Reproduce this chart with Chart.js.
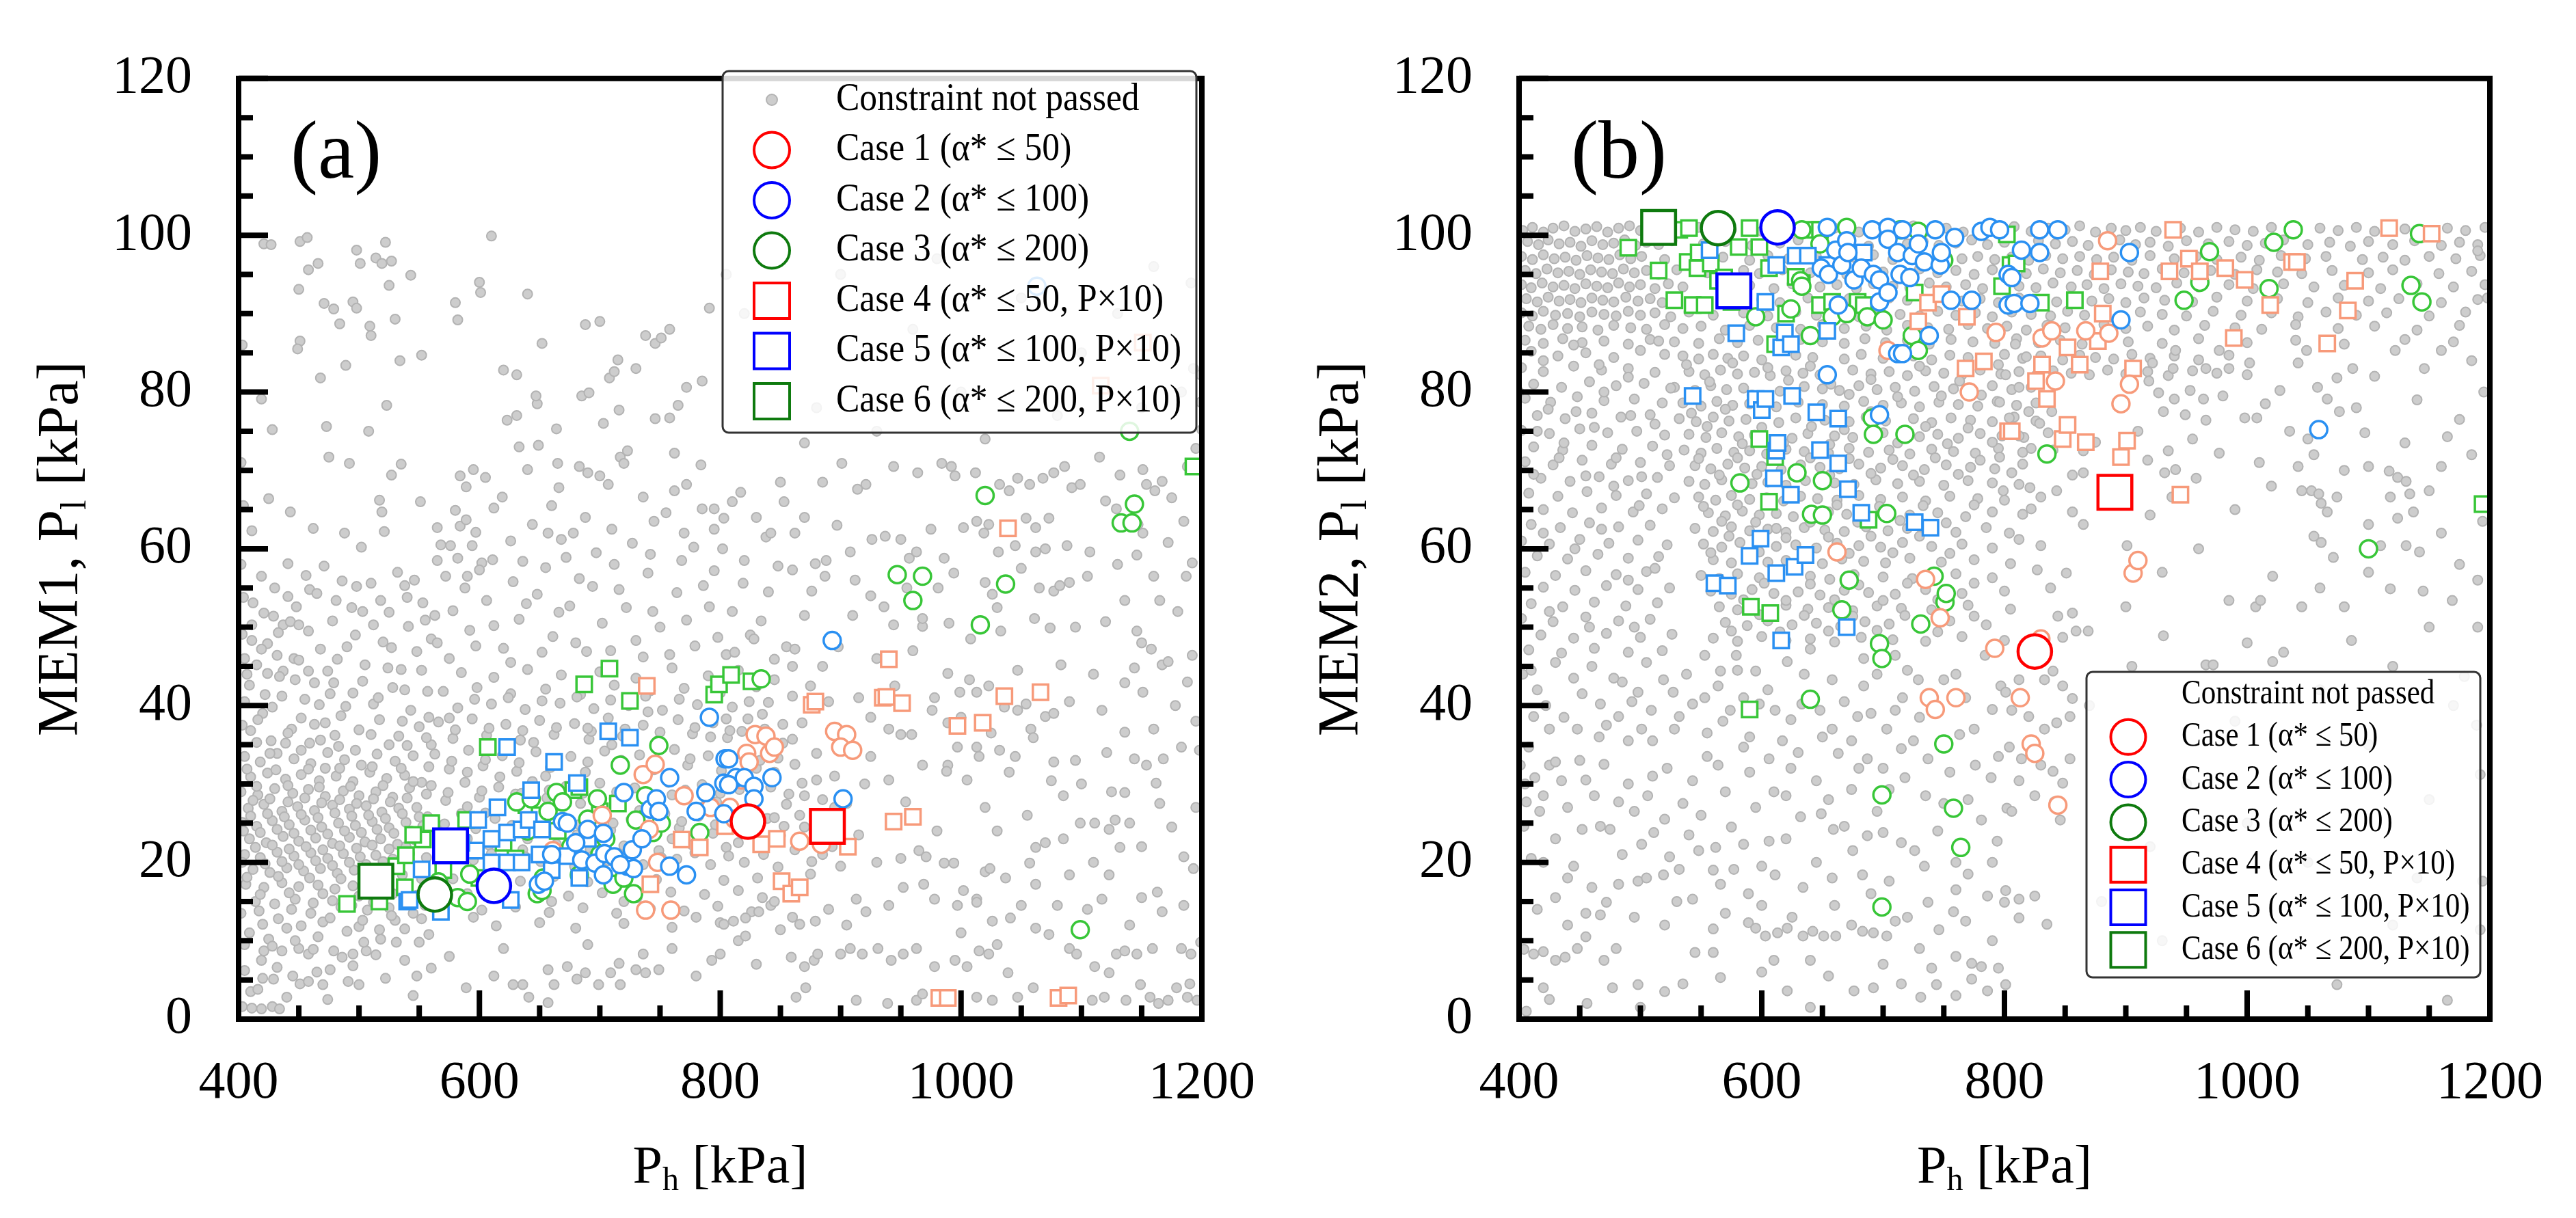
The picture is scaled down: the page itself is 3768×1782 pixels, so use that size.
<!DOCTYPE html>
<html>
<head>
<meta charset="utf-8">
<script src="https://cdn.jsdelivr.net/npm/chart.js@4.4.1/dist/chart.umd.min.js"></script>
<style>
  html, body { margin: 0; padding: 0; background: #fff; }
  #wrap { position: relative; width: 3768px; height: 1782px; }
  canvas { position: absolute; top: 0; }
  #chartA { left: 0; }
  #chartB { left: 1884px; }
</style>
</head>
<body>
<div id="wrap">
  <canvas id="chartA" width="1884" height="1782"></canvas>
  <canvas id="chartB" width="1884" height="1782"></canvas>
</div>
<script>
/* ---------- axes ---------- */
const xMajorTicks = [400, 600, 800, 1000, 1200];
const xMinorTicks = [450, 500, 550, 650, 700, 750, 850, 900, 950, 1050, 1100, 1150];
const yMajorTicks = [0, 20, 40, 60, 80, 100, 120];
const yMinorTicks = [5, 10, 15, 25, 30, 35, 45, 50, 55, 65, 70, 75, 85, 90, 95, 105, 110, 115];

const legendLabels = [
  'Constraint not passed',
  'Case 1 (α* ≤ 50)',
  'Case 2 (α* ≤ 100)',
  'Case 3 (α* ≤ 200)',
  'Case 4 (α* ≤ 50, P×10)',
  'Case 5 (α* ≤ 100, P×10)',
  'Case 6 (α* ≤ 200, P×10)'
];

/* ---------- panel (a): MEM1 ---------- */
// best design of each case, order Case 1..6
const bestA = [[823, 25.2], [612, 17.0], [563, 15.9], [889, 24.6], [576, 22.1], [514, 17.6]];

const caseA1 = [[661,21.5],[702,26.0],[736,31.2],[746,32.5],[741,24.2],[770,28.5],[792,27.0],[738,13.9],[759,13.9],[822,33.9],[824,32.8],[829,36.3],[838,36.1],[841,33.9],[845,34.7],[818,30.5],[808,27.0],[866,22.7],[884,22.3],[895,36.7],[905,36.3],[900,34.7],[910,34.3],[748,20.0],[812,25.5]];
const caseA2 = [[649,17.2],[654,17.6],[669,25.2],[685,20.3],[690,24.2],[696,19.9],[703,23.7],[703,18.4],[704,21.1],[712,20.7],[720,28.9],[723,19.5],[728,19.2],[742,26.8],[747,28.1],[749,26.5],[758,30.8],[758,19.5],[772,18.4],[780,26.5],[788,28.9],[791,38.5],[803,30.1],[803,26.2],[804,33.2],[807,33.2],[813,30.8],[807,29.9],[820,30.8],[828,29.7],[828,28.1],[843,30.8],[893,48.3],[902,28.1],[1063,93.5],[673,25.0],[717,19.7],[727,21.6],[680,22.5],[660,21.0],[735,23.0]];
const caseA3 = [[631,27.7],[643,28.1],[648,16.0],[652,16.4],[653,18.0],[657,26.5],[664,28.9],[669,27.7],[683,18.4],[698,28.1],[711,17.2],[717,32.4],[720,18.0],[728,16.0],[730,25.4],[738,28.5],[744,23.8],[749,34.9],[751,25.0],[783,23.8],[834,43.4],[947,56.7],[968,56.5],[960,53.4],[1037,55.5],[1016,50.3],[1020,66.8],[1133,63.3],[1142,63.3],[1144,65.7],[1099,11.4],[690,25.5],[705,23.0],[676,22.0],[700,21.0],[640,24.0],[612,19.5],[592,18.5],[582,15.5],[566,17.5],[590,15.0],[1140,75.0]];
const caseA4 = [[739,42.5],[742,17.2],[768,22.9],[783,21.9],[804,24.6],[834,22.3],[847,23.0],[851,17.6],[859,16.0],[866,16.8],[876,40.1],[879,40.5],[906,22.0],[935,41.0],[938,41.1],[951,40.3],[944,25.2],[960,25.8],[997,37.4],[1018,37.8],[1036,41.2],[1066,41.7],[1039,62.6],[982,2.7],[989,2.7],[1081,2.7],[1089,3.0],[1151,86.3],[1116,80.8],[940,45.9]];
const caseA5 = [[540,15.0],[542,15.2],[552,19.1],[568,13.7],[597,21.5],[599,25.4],[610,23.0],[610,20.0],[623,20.0],[623,23.8],[623,34.7],[626,15.2],[635,24.2],[635,20.0],[641,25.4],[643,29.2],[652,24.2],[662,32.8],[673,20.8],[681,30.1],[683,18.0],[707,36.7],[725,35.9],[585,22.5],[650,21.0],[660,19.0],[615,27.0],[690,23.0]];
const caseA6 = [[490,14.7],[517,15.0],[531,19.5],[538,16.8],[539,20.9],[553,22.9],[560,25.0],[589,25.4],[607,34.7],[639,27.3],[678,29.2],[683,29.6],[687,42.7],[708,44.7],[725,40.6],[795,41.4],[799,42.7],[809,43.9],[826,43.1],[1193,70.5],[620,22.5],[650,26.0],[665,24.0],[700,26.5],[715,27.5],[740,25.5],[570,19.0],[600,18.0],[630,20.5],[545,23.5]];

const grayAUpper = [[421,98.9],[451,99.2],[457,99.7],[458,95.6],[466,96.4],[498,98.1],[501,96.4],[514,97.1],[519,96.4],[527,96.7],[522,99.1],[543,94.9],[525,93.6],[610,99.9],[450,93.1],[471,91.3],[479,90.6],[495,91.5],[498,90.7],[509,88.4],[510,87.2],[530,89.3],[484,88.7],[580,91.4],[582,89.2],[601,92.7],[451,86.5],[449,85.5],[468,81.8],[489,83.4],[523,78.3],[534,84.0],[552,84.7],[419,79.1],[428,75.2],[473,75.6],[508,75.0],[475,71.7],[492,70.9],[527,69.4],[535,70.8],[517,66.2],[519,64.7],[551,66.0],[425,66.4],[443,64.7],[462,62.6],[488,62.0],[521,62.2],[502,60.2],[411,62.3],[419,56.5],[441,58.1],[459,54.8],[481,53.4],[498,55.2],[538,55.3],[565,58.5],[576,60.4],[582,58.8],[594,60.4],[602,58.2],[611,58.6],[584,69.3],[589,67.9],[595,70.1],[605,69.1],[565,62.7],[584,62.9],[589,63.7],[590,56.5],[620,82.8],[631,82.2],[623,76.4],[631,77.0],[648,78.5],[647,79.5],[633,73.0],[649,73.2],[664,75.3],[652,86.2],[640,70.1],[619,66.6],[644,63.1],[665,70.9],[666,67.8],[657,62.0],[668,61.2],[678,62.0],[688,88.6],[685,79.5],[691,79.9],[703,76.0],[716,77.7],[683,70.5],[690,69.7],[700,69.3],[707,68.2],[708,81.8],[712,82.6],[715,84.1],[738,87.2],[746,86.2],[758,88.0],[751,86.9],[746,76.6],[758,76.7],[765,78.3],[772,80.6],[717,71.7],[723,72.5],[720,70.9],[762,72.2],[736,66.6],[762,67.4],[772,68.2],[791,90.7],[785,81.4],[784,70.7],[785,65.1],[403,86.0],[404,65.5],[402,71.0],[402,58.0],[427,98.8],[600,94.0],[640,92.5],[700,89.0],[730,83.0],[745,63.5],[770,62.0],[795,62.5],[810,66.0],[830,64.0],[850,68.5]];
const grayAMid = [[411,50.3],[421,51.8],[429,51.4],[437,50.3],[443,50.7],[450,50.3],[458,49.5],[424,47.9],[411,48.3],[403,49.1],[405,46.0],[415,45.2],[424,44.1],[437,44.4],[447,43.3],[463,42.9],[474,44.4],[479,42.9],[458,44.4],[446,46.0],[432,46.4],[490,47.5],[505,45.2],[520,48.1],[535,44.6],[548,46.9],[560,48.5],[495,41.6],[512,40.2],[528,42.3],[543,39.4],[557,41.8],[485,38.7],[500,36.9],[517,38.2],[533,36.1],[550,37.3],[405,40.5],[420,39.0],[436,41.2],[452,38.4],[467,40.1],[480,36.2],[410,36.8],[427,35.5],[444,37.0],[459,35.2],[472,37.8],[412,53.1],[430,55.0],[448,52.6],[465,54.3],[478,50.8],[494,52.5],[510,55.6],[525,51.9],[540,53.8],[555,50.9],[565,48.0],[578,52.1],[592,49.6],[606,53.4],[620,47.3],[633,51.0],[648,54.2],[661,48.8],[675,52.7],[689,46.9],[702,50.5],[716,54.8],[730,48.3],[744,52.0],[758,46.5],[772,50.9],[786,55.3],[798,48.7],[572,56.5],[600,57.3],[628,55.8],[655,57.6],[683,56.2],[712,58.0],[740,56.9],[768,58.5],[795,57.2],[810,52.0],[825,49.0],[840,54.5],[855,47.5],[870,51.5]];
const grayACoreLeft = [[405,33.5],[418,32.8],[432,33.9],[446,33.2],[460,32.6],[474,34.0],[488,33.1],[502,32.4],[515,33.8],[530,32.9],[545,33.6],[558,32.2],[410,30.9],[424,31.4],[439,30.6],[452,31.2],[467,30.4],[481,31.0],[495,30.3],[509,31.5],[523,30.7],[538,31.1],[552,30.2],[402,29.0],[416,28.6],[430,29.4],[445,28.8],[458,29.3],[472,28.4],[487,29.1],[500,28.5],[514,29.0],[528,28.3],[542,29.5],[556,28.7],[408,26.9],[421,27.4],[436,26.5],[449,27.1],[463,26.6],[478,27.3],[492,26.8],[506,27.2],[519,26.4],[533,26.9],[548,27.0],[403,25.1],[415,24.6],[428,25.3],[442,24.8],[455,25.4],[469,24.5],[483,25.0],[497,24.7],[511,25.2],[525,24.4],[539,25.1],[553,24.6],[409,23.0],[423,22.5],[437,23.3],[450,22.7],[464,23.1],[478,22.4],[492,23.2],[505,22.6],[518,23.0],[532,22.3],[546,22.9],[405,21.0],[418,20.6],[432,21.3],[446,20.8],[460,21.2],[474,20.5],[487,21.1],[501,20.7],[514,20.9],[528,20.4],[542,21.1],[556,20.6],[412,19.1],[426,18.7],[440,19.3],[454,18.9],[468,19.2],[482,18.6],[496,19.0],[510,18.5],[524,19.2],[406,17.2],[421,16.8],[436,17.4],[450,16.9],[466,17.1],[480,16.6],[495,17.0],[509,16.4],[523,17.2],[548,15.8],[414,15.0],[430,14.7],[447,15.3],[462,14.8],[478,15.1],[494,14.5],[507,13.9],[525,14.2],[545,13.5],[420,12.1],[440,11.6],[470,12.4],[500,11.8],[530,12.6],[412,27.9],[426,28.1],[441,27.7],[455,28.2],[469,27.6],[484,28.0],[498,27.5],[512,28.1],[526,27.7],[540,28.2],[410,25.9],[424,26.2],[438,25.8],[452,26.1],[466,25.7],[480,26.3],[494,25.9],[508,26.0],[522,25.6],[536,26.2],[550,25.8],[404,24.0],[418,23.8],[432,24.2],[446,23.7],[460,24.1],[474,23.6],[488,24.0],[502,23.8],[515,24.2],[529,23.7],[543,24.0],[414,21.9],[428,22.2],[442,21.7],[456,22.0],[470,21.6],[484,22.1],[498,21.8],[511,22.2],[525,21.7],[539,22.0],[403,20.0],[422,19.8],[436,20.1],[450,19.7],[464,20.2],[478,19.6],[492,20.0],[506,19.7],[520,20.1],[534,19.8],[407,31.9],[431,31.8],[458,31.9],[484,32.0],[511,32.2],[535,32.0],[415,29.7],[441,29.8],[467,29.6],[493,29.7],[520,29.8],[545,30.3],[407,18.1],[433,18.2],[459,18.0],[485,17.9],[512,17.6],[536,18.4],[418,15.9],[442,16.1],[470,16.0],[500,15.7],[528,16.0],[552,17.9]];
const grayACoreRight = [[585,44.2],[612,43.6],[640,44.6],[668,43.9],[700,44.3],[730,43.5],[760,44.8],[790,43.8],[815,44.5],[845,43.3],[570,41.8],[598,42.3],[626,41.5],[655,42.1],[684,41.4],[712,42.6],[742,41.9],[770,42.2],[800,41.6],[830,42.4],[860,41.2],[582,39.7],[610,40.2],[638,39.5],[667,40.3],[695,39.6],[724,40.0],[752,39.4],[781,40.1],[810,39.8],[840,40.4],[566,37.9],[594,38.3],[622,37.6],[650,38.1],[679,37.7],[707,38.4],[736,37.5],[765,38.2],[794,37.8],[823,38.3],[852,37.6],[578,35.8],[606,36.2],[634,35.6],[662,36.3],[691,35.7],[719,36.1],[748,35.5],[777,36.4],[806,35.9],[835,36.0],[563,33.8],[591,34.3],[619,33.6],[647,34.1],[676,33.5],[704,34.2],[733,33.7],[762,34.4],[790,33.6],[819,34.0],[848,33.3],[575,31.9],[603,32.3],[631,31.6],[659,32.1],[688,31.5],[716,32.2],[745,31.8],[773,32.4],[801,31.7],[830,32.0],[560,29.8],[588,30.2],[616,29.6],[644,30.3],[672,29.7],[700,30.1],[729,29.5],[757,30.2],[785,29.9],[813,30.4],[842,29.6],[868,30.1],[572,27.9],[600,28.3],[628,27.6],[656,28.2],[684,27.5],[712,28.1],[741,27.8],[769,28.4],[797,27.7],[826,28.0],[855,27.4],[557,25.8],[585,26.2],[613,25.6],[641,26.3],[669,25.7],[697,26.1],[726,25.5],[754,26.2],[782,25.9],[811,26.4],[839,25.6],[866,26.0],[569,23.9],[597,24.3],[625,23.6],[653,24.2],[681,23.5],[709,24.1],[738,23.8],[766,24.4],[794,23.7],[822,24.0],[850,23.4],[878,23.9],[580,21.8],[608,22.2],[636,21.6],[664,22.3],[692,21.7],[720,22.1],[749,21.5],[777,22.2],[805,21.9],[834,22.4],[862,21.6],[893,22.0],[567,19.8],[595,20.3],[623,19.6],[651,20.1],[679,19.5],[707,20.2],[736,19.7],[764,20.4],[792,19.7],[820,20.0],[848,19.4],[876,20.1],[578,17.9],[606,18.3],[634,17.6],[662,18.2],[690,17.5],[718,18.1],[747,17.8],[775,18.4],[803,17.7],[831,18.0],[590,16.0],[618,15.6],[646,16.3],[674,15.7],[702,16.1],[731,15.5],[759,16.2],[787,15.9],[815,16.4],[602,13.9],[630,14.3],[658,13.6],[686,14.2],[714,13.5],[742,14.1],[770,13.8],[798,14.4],[826,13.7],[614,11.9],[650,12.3],[680,11.6],[720,12.2],[760,11.7],[800,12.3],[596,40.8],[624,41.0],[652,40.6],[681,41.1],[709,40.7],[738,41.2],[766,40.8],[795,41.0],[824,40.5],[580,36.9],[608,37.1],[636,36.8],[664,37.2],[693,36.7],[721,37.0],[750,36.6],[779,37.2],[808,36.8],[837,37.0],[577,32.9],[605,33.1],[633,32.7],[661,33.2],[690,32.8],[718,33.0],[747,32.6],[775,33.2],[804,32.8],[833,33.0],[574,28.9],[602,29.1],[630,28.7],[658,29.2],[686,28.8],[714,29.0],[743,28.6],[771,29.2],[800,28.8],[829,29.0],[857,28.7],[571,24.9],[599,25.1],[627,24.7],[655,25.2],[683,24.8],[711,25.0],[740,24.6],[768,25.2],[796,24.8],[825,25.0],[853,24.6],[582,20.9],[610,21.1],[638,20.7],[666,21.2],[694,20.8],[722,21.0],[751,20.6],[779,21.2],[807,20.8],[836,21.0],[560,35.0],[575,38.4],[590,31.5],[617,30.9],[645,35.3],[655,31.0],[690,37.1],[710,35.0],[740,39.2],[760,31.0],[792,36.0],[805,38.3],[845,31.5],[860,35.7],[862,32.5],[880,30.5],[895,27.0],[885,28.0],[590,27.1],[605,26.3],[635,28.8],[665,27.2],[700,27.4],[733,26.6],[760,28.6],[786,27.1],[816,29.3],[845,25.7],[590,23.0],[640,23.0],[700,23.0],[760,23.0],[815,22.5],[870,24.5],[575,15.4],[595,13.0],[660,15.0],[720,15.0],[780,13.0],[835,15.5]];
const grayALow = [[421,8.7],[436,8.7],[450,9.0],[458,8.3],[479,8.7],[495,8.3],[506,8.7],[419,7.5],[476,6.3],[420,5.2],[429,5.1],[451,4.5],[458,4.8],[470,4.4],[491,4.8],[500,4.4],[440,2.8],[403,1.6],[411,1.4],[419,1.3],[428,1.6],[434,1.3],[445,5.5],[465,6.0],[589,4.0],[657,6.3],[662,4.4],[673,6.7],[681,5.1],[688,5.9],[699,4.4],[709,5.9],[717,4.4],[730,6.3],[738,5.9],[749,6.3],[636,4.4],[641,2.8],[657,2.1],[612,5.5],[628,4.4],[736,8.3],[793,7.5],[800,8.3],[716,7.1],[550,9.8],[531,9.8],[518,10.2],[504,9.8],[560,6.5],[575,8.0],[545,3.0],[620,9.0],[690,9.5],[760,9.0],[780,5.5],[815,10.0],[830,7.0],[402,13.5],[409,11.0],[417,13.8],[425,10.2],[433,12.8],[444,14.0],[452,11.9],[460,13.5],[466,10.5],[476,12.9],[485,14.3],[490,11.2],[503,12.6],[512,14.9],[517,11.4],[527,13.2],[538,11.5],[552,12.8],[558,10.8],[405,9.5],[428,9.3],[447,10.0],[462,8.9],[486,7.9],[514,8.2],[538,7.5],[555,14.5],[410,3.5],[432,6.6],[474,2.5],[495,6.8],[522,5.2],[548,5.5],[405,6.2],[416,3.8]];
const grayALeftExtra = [[403,37.5],[416,38.2],[428,39.8],[441,36.5],[455,40.8],[463,37.6],[476,41.5],[489,39.9],[503,43.1],[516,41.0],[524,44.8],[538,42.0],[552,44.5],[558,38.5],[409,42.6],[422,41.4],[434,43.7],[450,45.8],[468,47.2],[482,45.9],[497,49.0],[512,50.3],[527,47.4],[541,50.1],[553,53.1],[404,53.8],[419,47.2],[433,49.3],[441,53.9],[456,56.6],[471,57.8],[486,55.9],[503,52.0],[518,53.4],[532,57.0],[546,56.0],[407,44.0],[426,33.9],[439,35.2],[452,34.3],[468,35.6],[483,34.8],[497,34.3],[510,36.3],[525,35.0],[540,34.9],[556,35.9],[415,35.3],[472,32.0],[536,38.0],[563,51.5],[575,46.0],[588,55.0],[597,47.6],[612,50.2],[626,45.5],[639,53.0],[652,46.8],[666,51.9],[680,48.0],[694,55.2],[709,47.0],[722,52.5],[736,46.2],[750,50.0],[764,54.4],[779,47.6],[791,52.6],[805,46.5],[819,55.6],[834,50.8],[848,57.8],[568,60.5],[580,64.9],[597,62.1],[612,65.2],[626,61.0],[636,58.4],[660,65.5],[672,58.9],[688,64.0],[697,59.5],[710,62.5],[727,60.7],[742,59.3],[755,64.6],[778,60.2],[802,60.0],[820,58.5],[838,61.5]];
const grayARight = [[901,70.9],[921,68.2],[914,67.6],[944,70.5],[964,69.7],[984,70.9],[995,69.3],[992,70.5],[1012,69.7],[1032,68.2],[1040,67.4],[1047,69.0],[1057,68.2],[1068,69.0],[1077,69.7],[1086,70.5],[1092,67.8],[1099,68.2],[1115,71.7],[1132,69.4],[1154,68.2],[1161,67.4],[1167,68.6],[1151,70.1],[1188,70.5],[1195,72.8],[817,67.2],[842,62.0],[862,62.0],[795,65.1],[803,63.9],[879,58.1],[888,58.5],[908,59.6],[926,61.2],[937,61.6],[950,61.2],[957,58.8],[963,59.6],[968,50.1],[986,58.8],[994,56.9],[1002,62.7],[1013,63.5],[1023,63.1],[1019,62.0],[1031,59.6],[1045,60.4],[1054,63.9],[1062,62.7],[1073,63.9],[1062,59.6],[1070,60.0],[1088,60.4],[1107,59.6],[1120,66.1],[1129,65.1],[1147,63.1],[1146,59.2],[1151,62.0],[1172,60.8],[1192,58.2],[1187,56.5],[860,57.3],[887,56.5],[876,54.6],[944,50.3],[936,52.6],[968,51.1],[981,55.0],[1020,55.7],[1026,54.2],[1065,55.0],[1077,54.6],[1082,55.3],[1090,55.7],[1061,51.1],[1120,50.7],[1136,53.4],[1146,49.5],[1150,48.0],[1158,47.2],[1167,45.2],[1172,45.6],[1192,46.4],[1144,44.8],[1165,53.4],[1033,49.5],[1047,44.5],[1074,49.9],[1083,45.2],[1070,38.6],[1077,39.0],[1058,37.0],[1060,35.9],[1117,39.4],[1075,30.4],[1077,32.8],[1121,34.0],[1136,28.9],[1111,25.0],[1123,24.2],[1132,21.9],[1062,21.9],[1099,25.0],[989,44.1],[1007,43.3],[1013,41.7],[1023,42.5],[1036,39.8],[1047,39.4],[1054,40.2],[978,41.0],[999,41.7],[976,39.4],[989,37.8],[997,34.7],[1013,34.7],[989,32.4],[988,31.6],[1032,34.3],[959,36.3],[968,32.4],[940,37.0],[950,36.3],[1057,19.9],[1037,18.0],[1062,17.2],[1020,18.8],[1024,19.2],[994,19.9],[986,19.9],[1002,16.4],[1013,15.3],[1090,18.4],[1117,15.3],[1123,18.4],[1163,16.2],[1167,13.7],[1185,20.7],[1193,19.2],[1128,25.4],[1198,34.3],[965,21.5],[971,20.7],[954,27.7],[959,25.8],[913,15.3],[921,13.7],[940,14.5],[952,16.8],[969,17.2],[978,15.3],[997,14.5],[1013,14.9],[1026,12.5],[1041,12.9],[1062,11.6],[1073,10.8],[1090,9.0],[1096,8.3],[1111,6.7],[1123,5.9],[1129,8.3],[1136,8.7],[1146,8.3],[1159,9.0],[1183,9.0],[1191,8.3],[1199,9.8],[859,7.9],[878,7.5],[870,6.7],[881,8.3],[900,8.3],[908,9.0],[918,8.3],[931,9.0],[942,7.5],[952,8.3],[963,9.0],[978,6.7],[995,7.5],[1005,6.7],[1015,8.7],[1023,8.3],[1039,5.9],[842,14.5],[832,13.7],[821,12.9],[811,12.5],[803,12.1],[821,10.6],[850,11.4],[866,12.1],[879,12.5],[871,4.0],[863,2.8],[913,2.4],[939,2.0],[963,2.4],[968,3.2],[1013,2.8],[1026,2.4],[1047,2.8],[1060,4.0],[1109,2.4],[1119,2.8],[1137,2.4],[1149,4.4],[1157,2.8],[1164,2.0],[1172,2.4],[1179,4.0],[1188,2.8],[1196,2.4],[1136,36.6],[1144,33.2],[1154,32.4],[1168,33.2],[1183,34.7],[1162,30.1],[1136,42.9],[1151,41.7],[1178,40.0],[1195,38.0],[1110,44.0],[1125,29.0],[1150,22.0],[1175,24.5],[1195,27.0],[1105,14.0],[1140,12.0],[1185,14.5],[1005,30.5],[1020,27.0],[1040,31.5],[1055,26.0],[1085,28.5],[1095,33.0],[1030,24.0],[1070,22.5],[1015,33.5],[812,46.8],[828,48.5],[845,45.9],[862,47.2],[818,36.7],[835,38.9],[852,35.2],[868,37.8],[880,33.9],[885,45.0],[890,40.5],[870,28.5],[880,25.5],[895,31.0],[905,27.5],[915,41.0],[920,30.0],[930,46.0],[860,13.0],[845,15.0],[875,18.5],[890,14.0],[900,19.5],[915,23.5],[930,20.0],[1191,93.9],[1199,82.2],[1199,78.7],[1200,75.2],[1193,83.0],[1183,80.0],[853,66.0],[870,64.0],[885,68.5],[897,63.0],[912,56.0],[925,54.0],[955,55.0],[975,62.5],[990,50.5],[1008,48.5],[1030,52.5],[1050,57.5],[1095,50.0],[1105,56.5],[1130,58.0],[1160,56.5],[1180,52.0],[1185,63.5],[1175,66.5],[860,45.0],[875,42.5],[898,47.5],[910,51.5],[925,38.5],[945,42.5],[960,47.0],[1000,38.5],[1025,36.5],[1045,33.5],[1090,40.5],[1100,30.0],[1160,37.0],[1188,43.0],[1165,27.5],[1140,25.0],[1110,20.0],[1080,14.5],[1050,14.5],[1030,9.5],[1000,11.0],[980,24.0],[940,30.5],[925,33.5],[905,36.5],[950,20.5],[905,12.0],[885,21.0],[1085,23.0],[1150,15.5],[1190,4.5]];
const grayAUnderLegend = [[820,90],[850,85],[900,95],[960,88],[1000,80],[1050,92],[1100,85],[1150,78],[880,78],[930,75],[1020,74],[1080,77],[1130,90],[805,95],[840,100],[870,73.5],[980,97],[1160,96]];

/* ---------- panel (b): MEM2 ---------- */
const bestB = [[825, 46.9], [613, 101.0], [564, 100.9], [891, 67.2], [577, 92.9], [515, 101.0]];

const caseB1 = [[662,59.6],[704,85.3],[735,56.1],[738,41.0],[743,39.5],[747,51.2],[760,41.0],[771,80.0],[792,47.3],[793,87.6],[813,41.0],[822,35.1],[825,33.9],[831,86.9],[839,87.8],[842,81.4],[844,27.3],[867,87.8],[885,99.3],[886,87.5],[896,78.5],[903,81.0],[906,56.9],[910,58.5],[830,48.5]];
const caseB2 = [[649,95.8],[654,101.0],[654,82.2],[655,95.0],[661,98.1],[663,91.1],[666,96.2],[670,99.3],[671,97.8],[676,94.3],[682,95.8],[691,100.7],[692,95.0],[697,94.3],[697,91.5],[697,77.1],[704,101.0],[704,99.5],[704,92.7],[712,97.8],[712,84.9],[714,95.0],[716,100.7],[716,84.9],[722,94.6],[724,97.4],[729,98.9],[734,96.6],[738,87.2],[743,100.7],[747,96.2],[748,97.8],[756,91.7],[759,99.7],[773,91.7],[781,100.5],[788,101.0],[796,100.7],[803,95.0],[803,91.1],[806,94.6],[808,91.3],[814,98.1],[821,91.3],[829,100.7],[829,97.8],[844,100.7],[896,89.2],[903,97.8],[1059,75.2]];
const caseB3 = [[582,68.4],[595,89.6],[624,90.6],[629,69.7],[632,94.2],[633,93.5],[633,100.7],[640,87.2],[640,40.8],[641,64.4],[648,98.9],[650,68.7],[650,64.3],[658,89.6],[666,52.2],[670,90.0],[670,101.0],[672,56.0],[687,89.6],[691,76.7],[692,74.6],[697,47.9],[699,46.0],[699,28.6],[699,14.3],[700,89.2],[703,64.5],[714,100.7],[718,74.6],[724,87.2],[729,85.3],[729,100.5],[731,50.4],[742,56.5],[750,96.8],[750,35.1],[751,53.2],[752,54.3],[758,26.9],[764,21.9],[835,72.1],[948,91.7],[961,94.0],[969,97.9],[1018,93.2],[1022,99.1],[1038,100.7],[1100,60.0],[1135,93.6],[1142,100.2],[1144,91.5]];
const caseB4 = [[729,89.0],[737,91.4],[748,92.5],[768,83.0],[769,89.6],[783,83.9],[803,75.0],[806,75.0],[826,81.4],[831,83.5],[835,79.1],[848,74.0],[852,85.7],[852,75.8],[862,83.5],[867,73.6],[877,86.5],[879,95.4],[881,90.0],[896,71.7],[901,73.8],[906,83.0],[936,95.4],[939,100.7],[945,66.9],[952,97.0],[961,95.4],[982,95.8],[989,86.9],[998,94.3],[1019,91.1],[1037,96.6],[1041,96.6],[1066,86.2],[1083,90.4],[1089,94.2],[1117,100.9],[1152,100.2]];
const caseB5 = [[543,79.5],[557,98.1],[561,55.6],[572,55.3],[579,87.5],[590,59.1],[595,79.1],[599,61.3],[600,77.7],[603,79.1],[603,91.5],[610,69.0],[612,96.2],[612,72.5],[612,56.9],[613,73.5],[616,85.7],[616,48.3],[619,87.6],[624,86.1],[624,66.9],[625,79.5],[627,57.7],[628,97.4],[636,59.2],[638,97.4],[645,77.4],[648,72.6],[654,96.2],[654,87.8],[663,76.6],[663,70.9],[670,50.0],[671,67.6],[682,64.6],[684,97.8],[726,63.4],[739,62.7]];
const caseB6 = [[490,98.4],[528,91.7],[532,100.7],[539,96.6],[540,100.9],[543,91.1],[547,95.8],[548,97.8],[553,91.1],[558,96.4],[564,94.2],[569,94.6],[581,98.5],[590,100.9],[590,39.5],[591,52.6],[598,98.5],[598,74.0],[606,95.8],[606,66.0],[607,51.8],[611,86.1],[611,71.7],[628,94.7],[633,93.9],[641,100.7],[648,100.7],[648,91.1],[658,91.5],[679,91.5],[684,91.1],[688,63.7],[726,92.7],[798,93.5],[802,100.1],[805,96.2],[810,96.4],[830,91.4],[858,91.7],[1194,65.7],[515,95.5],[575,91.5],[620,90.0]];

const grayBBand = [[403,100.6],[411,101.0],[420,100.4],[428,100.9],[437,101.2],[446,100.5],[455,100.8],[464,101.1],[473,100.4],[482,100.9],[491,101.2],[500,100.6],[510,100.9],[520,100.5],[548,101.0],[575,100.7],[600,100.5],[622,101.1],[640,100.6],[660,100.9],[680,100.4],[695,101.0],[710,100.7],[725,101.2],[738,100.5],[752,100.9],[766,100.4],[780,101.0],[795,100.6],[808,101.1],[822,100.5],[836,100.9],[850,100.7],[862,101.2],[875,100.4],[888,100.9],[900,100.6],[912,101.0],[925,100.5],[945,100.9],[960,100.4],[975,101.0],[990,100.7],[1005,100.5],[1020,101.0],[1040,100.4],[1060,100.9],[1075,100.6],[1090,101.0],[1105,100.5],[1130,100.8],[1145,100.4],[1165,100.9],[1180,100.6],[1196,101.0],
[407,99.2],[416,98.8],[424,99.4],[433,98.9],[442,99.1],[451,98.6],[460,99.3],[469,98.8],[478,99.0],[487,99.4],[496,98.7],[505,99.1],[515,98.8],[526,99.3],[552,98.9],[570,99.2],[592,98.7],[615,99.0],[630,99.4],[652,98.8],[668,99.1],[688,98.6],[702,99.3],[720,98.9],[733,99.2],[746,98.7],[760,99.0],[773,99.4],[786,98.8],[800,99.1],[815,98.6],[828,99.3],[842,98.9],[856,99.2],[869,98.7],[882,99.0],[895,99.4],[908,98.8],[920,99.1],[935,98.6],[950,99.3],[968,98.9],[985,99.2],[1000,98.7],[1015,99.0],[1030,99.4],[1050,98.8],[1068,99.1],[1085,98.6],[1100,99.2],[1120,98.8],[1138,99.3],[1160,98.7],[1175,99.1],[1190,98.8],
[402,97.3],[411,96.9],[420,97.5],[429,97.0],[438,97.2],[447,96.8],[456,97.4],[465,97.1],[474,96.9],[483,97.5],[492,97.0],[501,97.3],[520,96.9],[568,97.2],[590,96.8],[605,97.4],[622,97.0],[645,97.3],[660,96.8],[676,97.2],[692,97.5],[708,96.9],[722,97.3],[737,96.8],[752,97.4],[765,97.0],[778,97.3],[792,96.9],[806,97.2],[820,96.8],[834,97.4],[848,97.0],[862,97.3],[876,96.9],[890,97.2],[905,96.8],[920,97.4],[940,97.0],[958,97.3],[975,96.9],[995,97.2],[1010,96.8],[1028,97.4],[1048,97.0],[1065,97.3],[1095,96.9],[1112,97.2],[1130,96.8],[1150,97.3],[1172,97.0],[1192,97.4],
[405,95.5],[414,95.1],[423,95.7],[432,95.2],[441,95.4],[450,95.0],[459,95.6],[468,95.3],[477,95.1],[486,95.7],[495,95.2],[505,95.5],[515,95.0],[530,95.6],[555,95.2],[585,95.5],[598,95.1],[617,95.6],[640,95.2],[655,95.5],[670,95.0],[685,95.6],[700,95.3],[715,95.1],[730,95.7],[745,95.2],[760,95.5],[775,95.0],[790,95.6],[805,95.3],[818,95.1],[832,95.7],[846,95.2],[860,95.5],[874,95.0],[888,95.6],[902,95.3],[915,95.1],[930,95.7],[948,95.2],[970,95.5],[990,95.0],[1008,95.6],[1025,95.3],[1045,95.1],[1070,95.5],[1100,95.2],[1120,95.6],[1158,95.1],[1185,95.4],
[402,93.7],[410,93.3],[419,93.9],[428,93.4],[437,93.6],[446,93.2],[455,93.8],[464,93.5],[473,93.3],[482,93.9],[491,93.4],[500,93.7],[512,93.2],[523,93.8],[535,93.4],[590,93.6],[610,93.2],[625,93.8],[648,93.4],[662,93.7],[678,93.2],[692,93.8],[708,93.5],[722,93.3],[738,93.9],[752,93.4],[768,93.7],[782,93.2],[797,93.8],[812,93.5],[826,93.3],[840,93.9],[855,93.4],[868,93.7],[882,93.2],[896,93.8],[910,93.5],[925,93.3],[942,93.9],[960,93.4],[985,93.7],[1005,93.2],[1030,93.8],[1055,93.4],[1080,93.6],[1110,93.2],[1140,93.8],[1170,93.4],[1196,93.7],
[406,91.9],[415,91.5],[424,92.1],[433,91.6],[442,91.8],[451,91.4],[460,92.0],[469,91.7],[478,91.5],[488,92.1],[498,91.6],[508,91.9],[518,91.4],[600,91.8],[615,91.4],[638,92.0],[655,91.6],[672,91.9],[688,91.4],[705,92.0],[720,91.7],[735,91.5],[750,92.1],[765,91.6],[780,91.9],[795,91.4],[812,92.0],[828,91.7],[843,91.5],[858,92.1],[872,91.6],[886,91.9],[900,91.4],[915,92.0],[932,91.7],[955,91.5],[975,92.1],[1000,91.6],[1025,91.9],[1050,91.4],[1075,92.0],[1100,91.6],[1125,91.9],[1160,91.4],[1190,91.8],
[402,90.1],[411,89.7],[420,90.3],[430,89.8],[440,90.0],[450,89.6],[460,90.2],[470,89.9],[480,89.7],[490,90.3],[500,89.8],[512,90.1],[525,89.6],[540,90.2],[560,89.8],[585,90.1],[605,89.7],[628,90.2],[645,89.8],[662,90.1],[680,89.6],[698,90.2],[714,89.9],[730,89.7],[745,90.3],[760,89.8],[776,90.1],[790,89.6],[806,90.2],[822,89.9],[838,89.7],[852,90.3],[866,89.8],[880,90.1],[895,89.6],[912,90.2],[930,89.9],[950,89.7],[972,90.3],[995,89.8],[1020,90.1],[1042,89.6],[1065,90.2],[1090,89.8],[1115,90.1],[1150,89.7],[1180,90.2],
[408,88.4],[418,88.0],[428,88.6],[440,88.1],[452,88.3],[465,87.9],[478,88.5],[492,88.2],[505,88.0],[520,88.6],[535,88.1],[550,88.4],[570,87.9],[590,88.5],[612,88.2],[632,88.0],[650,88.6],[668,88.1],[686,88.4],[703,87.9],[720,88.5],[737,88.2],[754,88.0],[770,88.6],[786,88.1],[802,88.4],[818,87.9],[835,88.5],[850,88.2],[866,88.0],[882,88.6],[900,88.1],[918,88.4],[940,87.9],[965,88.5],[990,88.2],[1012,88.0],[1040,88.6],[1075,88.1],[1105,88.4],[1140,87.9],[1175,88.5],
[405,86.6],[420,86.2],[436,86.8],[452,86.3],[470,86.5],[490,86.1],[508,86.7],[528,86.4],[548,86.2],[565,86.8],[580,86.3],[597,86.6],[614,86.1],[632,86.7],[650,86.4],[668,86.2],[685,86.8],[702,86.3],[720,86.6],[738,86.1],[756,86.7],[774,86.4],[792,86.2],[810,86.8],[828,86.3],[846,86.6],[864,86.1],[880,86.7],[902,86.4],[930,86.2],[960,86.8],[1000,86.3],[1040,86.6],[1080,86.1],[1130,86.7],[1170,86.4]];
const grayBMid = [[535,84.6],[548,84.2],[560,84.8],[572,84.3],[585,84.6],[600,84.1],[628,84.7],[642,84.4],[668,84.2],[682,84.8],[700,84.3],[725,84.6],[740,84.1],[755,84.7],[770,84.4],[785,84.2],[800,84.8],[815,84.3],[830,84.6],[848,84.1],[862,84.7],[875,84.4],[890,84.2],[905,84.8],[920,84.3],[940,84.6],[960,84.1],[985,84.7],
[540,82.6],[553,82.2],[566,82.8],[580,82.3],[594,82.5],[607,82.1],[620,82.7],[634,82.4],[648,82.2],[675,82.8],[690,82.3],[705,82.6],[720,82.1],[735,82.7],[750,82.4],[765,82.2],[780,82.8],[797,82.3],[812,82.6],[826,82.1],[840,82.7],[855,82.4],[870,82.2],[885,82.8],[900,82.3],[918,82.6],[935,82.1],[955,82.7],[975,82.4],[1000,82.2],
[528,80.6],[545,80.2],[558,80.8],[571,80.3],[585,80.5],[615,80.1],[635,80.7],[650,80.4],[664,80.2],[680,80.8],[695,80.3],[710,80.6],[726,80.1],[742,80.7],[758,80.4],[774,80.2],[790,80.8],[806,80.3],[822,80.6],
[535,78.6],[550,78.2],[563,78.8],[576,78.3],[590,78.5],[612,78.1],[630,78.7],[650,78.4],[668,78.2],[684,78.8],[700,78.3],[715,78.6],[730,78.1],[746,78.7],[762,78.4],[778,78.2],[794,78.8],[810,78.3],[826,78.6],
[532,76.6],[546,76.2],[560,76.8],[573,76.3],[587,76.5],[614,76.1],[628,76.7],[652,76.4],[672,76.2],[686,76.8],[702,76.3],[725,76.6],[740,76.1],[756,76.7],[772,76.4],[790,76.2],[808,76.8],[826,76.3],
[540,74.6],[554,74.2],[567,74.8],[581,74.3],[594,74.5],[625,74.1],[638,74.7],[660,74.4],[675,74.2],[700,74.8],[730,74.3],[745,74.6],[762,74.1],[780,74.7],[798,74.4],[816,74.2],[836,74.8],
[536,72.6],[550,72.2],[563,72.8],[577,72.3],[590,72.5],[604,72.1],[620,72.7],[635,72.4],[655,72.2],[672,72.8],[688,72.3],[705,72.6],[722,72.1],[740,72.7],[758,72.4],[776,72.2],[795,72.8],[815,72.3],[840,72.6],
[545,70.6],[558,70.2],[572,70.8],[586,70.3],[600,70.5],[616,70.1],[632,70.7],[648,70.4],[664,70.2],[680,70.8],[698,70.3],[716,70.6],[734,70.1],[752,70.7],[772,70.4],[792,70.2],[815,70.8],
[540,68.6],[553,68.2],[567,68.8],[592,68.3],[605,68.5],[620,68.1],[636,68.7],[660,68.4],[676,68.2],[694,68.8],[712,68.3],[730,68.6],[750,68.1],[770,68.7],[790,68.4],[812,68.2],
[548,66.6],[562,66.2],[575,66.8],[590,66.3],[604,66.5],[618,66.1],[632,66.7],[646,66.4],[662,66.2],[680,66.8],[698,66.3],[716,66.6],[735,66.1],[755,66.7],[778,66.4],[800,66.2],
[556,64.6],[570,64.2],[584,64.8],[598,64.3],[612,64.5],[626,64.1],[655,64.7],[670,64.4],[688,64.2],[706,64.8],[722,64.3],[745,64.6],[768,64.1],[790,64.7],[815,64.4],
[545,62.6],[560,62.2],[575,62.8],[590,62.3],[605,62.5],[620,62.1],[635,62.7],[652,62.4],[668,62.2],[686,62.8],[704,62.3],[720,62.6],[760,62.1],[785,62.7],
[552,60.6],[567,60.2],[582,60.8],[612,60.3],[628,60.5],[645,60.1],[662,60.7],[680,60.4],[698,60.2],[716,60.8],[740,60.3],[765,60.6],[790,60.1],
[560,58.6],[575,58.2],[590,58.8],[605,58.3],[620,58.5],[650,58.1],[666,58.7],[684,58.4],[702,58.2],[722,58.8],[748,58.3],[775,58.6],[805,58.1],
[550,56.6],[565,56.2],[580,56.8],[598,56.3],[640,56.5],[656,56.1],[676,56.7],[700,56.4],[724,56.2],[760,56.8],[790,56.3],
[558,54.6],[575,54.2],[592,54.8],[610,54.3],[630,54.5],[648,54.1],[668,54.7],[688,54.4],[710,54.2],[735,54.8],[765,54.3],[800,54.6],
[565,52.6],[580,52.2],[620,52.8],[638,52.3],[655,52.5],[675,52.1],[695,52.7],[715,52.4],[740,52.2],[770,52.8],[805,52.3],
[570,50.6],[588,50.2],[605,50.8],[625,50.3],[645,50.5],[665,50.1],[685,50.7],[705,50.4],[728,50.2],[755,50.8],[785,50.3],
[560,48.6],[580,48.2],[600,48.8],[620,48.3],[640,48.5],[660,48.1],[682,48.7],[708,48.4],[735,48.2],[765,48.8],[800,48.3]];
const grayBMidExtra = [[538,83.5],[557,81.3],[576,83.7],[592,79.6],[605,83.1],[622,81.5],[640,83.3],[657,81.0],[672,79.7],[690,81.6],[712,79.4],[730,83.3],[748,79.5],[763,81.4],[781,79.6],[795,83.5],[542,77.3],[555,75.6],[570,77.8],[584,73.4],[600,75.5],[618,73.5],[641,75.6],[656,73.3],[668,75.2],[690,77.5],[712,73.5],[735,75.6],[753,73.4],[770,75.4],[790,73.6],[548,71.5],[565,69.4],[580,71.6],[596,69.5],[610,71.4],[626,69.3],[640,71.6],[656,69.4],[672,71.5],[690,69.6],[708,71.4],[725,69.4],[743,71.6],[762,69.5],[780,71.3],[552,65.4],[567,63.5],[580,65.6],[595,63.4],[612,62.6],[640,63.4],[662,65.6],[679,63.4],[697,65.4],[714,63.6],[733,65.5],[752,63.3],[775,65.6],[558,59.5],[573,61.6],[598,59.6],[620,61.4],[637,59.5],[655,61.5],[672,59.4],[690,61.6],[708,59.5],[730,61.6],[755,59.4],[565,55.4],[585,53.5],[602,55.6],[620,53.4],[640,55.5],[660,53.5],[680,55.4],[700,53.4],[720,55.6],[745,53.5],[775,55.6],[575,49.5],[598,51.6],[615,49.4],[635,51.5],[655,49.5],[675,51.4],[695,49.6],[718,51.5],[745,49.4],[775,51.4]];
const grayBLeft = [[410,85.2],[432,84.6],[455,85.0],[478,84.4],[500,85.3],[520,84.8],[402,83.1],[420,82.6],[445,83.3],[468,82.8],[490,83.0],[512,82.5],[412,81.0],[435,80.6],[458,81.3],[480,80.8],[503,81.1],[525,80.5],[405,79.2],[426,78.7],[448,79.4],[470,78.9],[495,79.1],[518,78.6],[415,77.0],[438,76.6],[460,77.3],[484,76.8],[508,77.1],[402,75.1],[425,74.7],[450,75.3],[473,74.8],[497,75.0],[520,74.5],[412,73.0],[436,72.6],[460,73.2],[485,72.7],[510,73.1],[405,71.1],[428,70.7],[452,71.3],[476,70.8],[500,71.0],[524,70.6],[418,69.0],[442,68.6],[466,69.2],[490,68.7],[514,69.1],[408,67.1],[432,66.7],[456,67.3],[480,66.8],[505,67.0],[528,66.5],[420,65.0],[444,64.6],[468,65.2],[494,64.7],[518,65.1],[410,63.1],[434,62.7],[458,63.3],[482,62.8],[508,63.0],[402,61.0],[425,60.6],[450,61.2],[474,60.7],[498,61.1],[522,60.5],[415,59.1],[440,58.7],[465,59.3],[490,58.8],[515,59.0],[405,57.0],[430,56.6],[455,57.2],[480,56.7],[505,57.1],[420,55.1],[446,54.7],[472,55.3],[498,54.8],[524,55.0],[410,53.0],[436,52.6],[462,53.2],[488,52.7],[514,53.1],[402,51.1],[428,50.7],[455,51.3],[482,50.8],[508,51.0],[418,49.0],[445,48.6],[472,49.2],[500,48.7],[526,49.1],[408,47.1],[435,46.7],[462,47.3],[490,46.8],[518,47.0],[420,84.0],[445,86.0],[466,83.5],[490,81.9],[515,86.5],[400,80.0],[424,77.8],[447,77.5],[470,80.0],[492,77.0],[512,75.9],[415,75.0],[437,73.5],[462,75.5],[480,71.6],[501,69.2],[522,72.0],[412,69.5],[433,71.6],[455,69.3],[478,68.0],[499,65.5],[420,62.0],[446,60.0],[468,62.5],[490,56.0],[512,57.5],[425,52.0],[458,50.0],[495,50.0]];
const grayBLow = [[412,38.6],[425,37.0],[408,34.7],[401,32.4],[413,30.8],[425,32.4],[435,30.4],[406,27.7],[417,26.5],[404,24.6],[430,32.8],[448,37.0],[467,40.2],[472,37.5],[482,38.6],[490,35.5],[501,37.0],[498,41.7],[509,39.4],[519,43.3],[527,41.7],[532,38.6],[543,40.2],[553,41.0],[564,42.5],[574,39.4],[585,41.0],[598,40.2],[611,39.4],[624,38.2],[633,40.2],[648,39.4],[658,37.0],[663,33.9],[674,35.5],[679,38.6],[687,33.2],[703,37.0],[716,41.0],[725,35.5],[737,33.2],[718,30.8],[705,29.3],[674,29.3],[645,30.4],[624,32.0],[606,33.2],[585,34.7],[564,32.4],[543,30.4],[522,32.0],[506,28.5],[482,27.7],[462,28.5],[452,24.2],[467,24.6],[475,24.2],[501,22.3],[511,23.8],[524,20.7],[532,19.1],[548,21.5],[562,21.9],[577,19.1],[585,22.3],[606,22.7],[632,25.8],[649,26.2],[659,24.2],[668,24.6],[687,23.4],[700,23.8],[726,21.5],[734,19.5],[705,17.6],[683,18.4],[658,18.0],[634,16.8],[611,18.4],[589,16.0],[566,17.2],[543,15.3],[519,18.4],[482,17.2],[460,16.8],[472,14.9],[467,13.3],[498,17.6],[737,14.9],[746,11.4],[758,13.7],[768,12.5],[786,15.7],[800,14.9],[781,6.7],[773,7.1],[553,46.4],[566,44.4],[579,46.4],[595,44.4],[621,45.6],[658,43.3],[684,46.0],[710,46.4],[729,43.3],[750,43.3],[768,41.0],[784,46.4],[797,42.5],[684,42.5],[640,47.2],[710,39.4],[763,36.3],[776,32.4],[789,30.8],[781,25.4],[794,22.7],[802,26.9],[589,12.3],[595,11.6],[603,10.6],[613,11.0],[621,11.6],[634,10.6],[642,11.2],[651,10.6],[661,10.6],[674,12.0],[683,11.2],[692,11.0],[703,10.6],[710,12.5],[404,8.9],[412,8.3],[420,8.6],[430,7.5],[438,7.9],[448,9.0],[406,1.0],[456,2.0],[477,4.0],[498,4.4],[535,4.5],[566,5.3],[621,3.6],[676,3.6],[692,4.0],[731,2.8],[744,4.4],[773,5.1],[786,3.6],[403,44.0],[415,42.0],[430,45.5],[445,43.5],[460,45.0],[485,43.0],[505,45.5],[420,20.0],[440,18.0],[415,14.0],[440,12.0],[455,10.5],[480,9.0],[520,12.0],[545,8.5],[570,13.5],[600,6.0],[640,7.5],[700,7.0],[730,9.0],[760,3.0],[420,4.0],[500,1.5],[640,1.5],[700,14.0],[620,28.5],[595,27.0],[550,26.0],[520,25.5],[490,30.0],[450,33.0],[700,32.0],[750,27.5],[760,20.0],[740,6.5],[410,44.5],[422,40.0],[437,38.5],[452,41.5],[466,36.0],[478,43.5],[493,40.5],[510,35.5],[528,37.0],[538,44.0],[555,36.5],[568,38.0],[580,44.5],[590,36.0],[605,42.0],[617,35.5],[635,44.0],[650,36.0],[668,40.5],[690,39.0],[695,44.0],[720,44.5],[730,38.5],[745,39.5],[760,44.0],[775,37.0],[790,39.5],[405,30.0],[420,28.5],[440,27.0],[455,30.5],[470,32.5],[495,26.5],[510,31.0],[535,27.5],[555,33.5],[570,29.0],[590,31.5],[610,29.0],[630,34.0],[655,28.0],[680,32.0],[695,26.5],[715,34.5],[735,28.5],[755,31.5],[770,28.0],[795,33.5],[410,20.5],[430,23.0],[445,19.5],[485,21.0],[505,18.0],[540,23.5],[560,19.0],[575,24.5],[600,19.5],[620,23.0],[645,20.0],[675,21.5],[715,22.5],[745,24.0],[770,18.5],[790,20.0],[430,15.5],[455,13.5],[495,13.0],[530,15.0],[560,11.5],[600,14.5],[625,13.0],[660,14.5],[690,16.0],[720,13.0],[760,16.5],[790,10.0],[425,2.5],[470,7.5],[520,3.5],[560,8.5],[610,7.5],[655,5.5],[715,4.5],[760,8.0],[795,6.5]];
const grayBRight = [[809,86.1],[818,84.5],[801,82.2],[812,80.6],[796,78.7],[804,76.7],[820,77.5],[829,76.0],[839,77.5],[812,74.4],[822,72.8],[796,71.7],[806,69.7],[799,67.4],[821,67.8],[830,66.6],[843,67.4],[856,69.4],[865,69.7],[865,72.5],[875,73.6],[822,65.1],[804,62.0],[812,61.2],[830,60.4],[856,64.7],[865,63.1],[827,57.3],[851,56.9],[838,55.0],[856,51.8],[869,49.5],[844,51.4],[848,48.7],[859,49.5],[901,60.4],[920,64.3],[938,66.6],[958,69.0],[941,70.1],[932,69.7],[918,71.3],[931,77.5],[940,79.1],[949,77.1],[953,80.2],[939,83.0],[941,85.3],[922,83.7],[919,81.4],[927,79.9],[966,83.0],[977,85.3],[985,83.0],[1002,83.7],[964,79.1],[966,76.4],[998,76.7],[1008,76.7],[977,72.2],[1027,80.2],[1042,83.7],[1049,85.3],[1058,80.6],[1066,79.1],[1074,81.8],[1087,83.0],[1097,74.8],[1122,85.3],[1160,85.3],[1146,83.0],[1165,74.3],[1076,77.5],[1117,69.9],[1124,69.1],[1131,68.6],[1150,67.4],[1134,67.0],[1118,66.6],[1124,63.9],[1137,64.7],[1045,67.4],[1053,67.4],[1059,67.0],[1042,70.5],[1061,65.8],[1066,64.7],[1074,66.6],[1055,61.6],[1061,60.8],[1071,58.9],[1100,63.1],[1110,60.4],[1131,60.4],[1142,59.6],[1118,54.9],[1145,54.6],[1169,53.4],[985,53.4],[1007,52.6],[1011,53.4],[1021,56.5],[1045,52.6],[1080,52.6],[1086,48.3],[1030,46.8],[1021,45.6],[966,45.2],[972,45.2],[931,48.9],[900,52.6],[1192,65.9],[1194,63.5],[1179,43.7],[1189,37.5],[1192,31.2],[1194,17.6],[1192,11.4],[1074,4.4],[1165,2.4],[801,41.7],[812,43.3],[833,43.3],[840,44.4],[848,42.5],[856,40.9],[806,39.4],[820,38.6],[833,37.0],[843,37.8],[854,38.6],[804,34.7],[814,33.2],[830,32.4],[840,31.6],[848,30.1],[854,33.2],[812,30.4],[825,28.5],[841,27.7],[846,25.4],[806,26.5],[801,16.4],[812,15.3],[825,15.7],[812,12.9],[835,12.1],[801,4.4],[1190,98.0],[1198,92.0],[1195,80.0],[1185,72.0],[1175,58.0],[1190,50.0],[1100,70.5],[1050,74.0],[1010,71.0],[990,65.0],[960,60.0],[930,57.0],[905,45.0],[1000,48.0],[1120,45.0],[1150,50.0],[910,75.0],[935,72.5],[955,74.0],[980,79.5],[1015,78.5],[1035,75.0],[1055,72.0],[1090,78.0],[1105,82.0],[1140,79.0],[1175,76.5],[1185,84.0],[1160,70.5],[1130,73.5],[1080,70.0],[1020,68.0],[1190,56.0],[1160,62.0],[1100,57.0],[1060,55.0]];
const grayBUnderLegend = [[870,40.0],[900,35.0],[950,30.0],[1000,25.0],[1050,20.0],[1100,35.0],[1150,28.0],[880,15.0],[930,10.0],[1120,12.0],[1170,40.0],[990,38.0],[1060,42.0],[920,22.0],[1140,18.0]];

/* ---------- styles ---------- */
const FONT = '"Liberation Serif", "Times New Roman", serif';
const GRAY_FILL = '#cdcdcd';
const GRAY_EDGE = '#b3b3b3';
const LIGHT = ['#f79a7a', '#2a90f2', '#38c638'];   // small markers: case 1/4, 2/5, 3/6
const DARK = ['#ff0000', '#0000ff', '#0e7a0e'];    // best designs + legend

const toXY = arr => arr.map(p => ({ x: p[0], y: p[1] }));

function buildDatasets(grayParts, cases, best) {
  const sets = [];
  sets.push({
    label: legendLabels[0],
    data: toXY([].concat(...grayParts)),
    pointStyle: 'circle', pointRadius: 7, borderWidth: 2,
    backgroundColor: GRAY_FILL, borderColor: GRAY_EDGE, order: 20, clip: 4
  });
  const smallOrder = [7, 6, 8];
  cases.forEach((arr, i) => {
    const k = i % 3, square = i >= 3;
    sets.push({
      label: legendLabels[i + 1],
      data: toXY(arr),
      pointStyle: square ? 'rect' : 'circle',
      pointRadius: square ? 15.9 : 12.5,
      borderWidth: 3.5,
      backgroundColor: '#ffffff', borderColor: LIGHT[k],
      order: smallOrder[k], clip: 4
    });
  });
  best.forEach((p, i) => {
    const k = i % 3, square = i >= 3;
    sets.push({
      label: legendLabels[i + 1] + ' best',
      data: toXY([p]),
      pointStyle: square ? 'rect' : 'circle',
      pointRadius: square ? 35 : 24.5,
      borderWidth: 4.5,
      backgroundColor: '#ffffff', borderColor: DARK[k],
      order: 1, clip: 4
    });
  });
  return sets;
}

/* axis box, inward ticks, panel tag and axis titles */
function subTitle(ctx, main, sub, tail, cx, baseY, size) {
  const big = `${size}px ${FONT}`, small = `${Math.round(size * 0.62)}px ${FONT}`;
  ctx.font = big; const w1 = ctx.measureText(main).width, w3 = ctx.measureText(tail).width;
  ctx.font = small; const w2 = ctx.measureText(sub).width;
  let x = cx - (w1 + w2 + w3) / 2;
  ctx.textAlign = 'left'; ctx.textBaseline = 'alphabetic';
  ctx.font = big; ctx.fillText(main, x, baseY); x += w1;
  ctx.font = small; ctx.fillText(sub, x, baseY + size * 0.14); x += w2;
  ctx.font = big; ctx.fillText(tail, x, baseY);
}

const framePlugin = {
  id: 'frame',
  afterDatasetsDraw(chart, args, opts) {
    const { ctx, chartArea: a, scales: { x, y } } = chart;
    ctx.save();
    ctx.strokeStyle = '#000';
    ctx.lineWidth = 8;
    ctx.strokeRect(a.left, a.top, a.right - a.left, a.bottom - a.top);
    ctx.beginPath();
    xMajorTicks.forEach(v => { const px = x.getPixelForValue(v); ctx.moveTo(px, a.bottom); ctx.lineTo(px, a.bottom - 42); });
    xMinorTicks.forEach(v => { const px = x.getPixelForValue(v); ctx.moveTo(px, a.bottom); ctx.lineTo(px, a.bottom - 20); });
    yMajorTicks.forEach(v => { const py = y.getPixelForValue(v); ctx.moveTo(a.left, py); ctx.lineTo(a.left + 43, py); });
    yMinorTicks.forEach(v => { const py = y.getPixelForValue(v); ctx.moveTo(a.left, py); ctx.lineTo(a.left + 21, py); });
    ctx.stroke();

    ctx.fillStyle = '#000';
    ctx.font = `120px ${FONT}`;
    ctx.textAlign = 'left';
    ctx.textBaseline = 'alphabetic';
    ctx.fillText(opts.tag, a.left + 76, a.top + 145);

    subTitle(ctx, 'P', 'h', ' [kPa]', (a.left + a.right) / 2, 1730, 78);

    ctx.translate(a.left - 236, (a.top + a.bottom) / 2);
    ctx.rotate(-Math.PI / 2);
    subTitle(ctx, opts.yMain, 'l', ' [kPa]', 0, 0, 84);
    ctx.restore();
  }
};

const legendPlugin = {
  id: 'insetLegend',
  afterDraw(chart, args, o) {
    const ctx = chart.ctx;
    ctx.save();
    ctx.beginPath();
    ctx.roundRect(o.x, o.y, o.w, o.h, 9);
    ctx.fillStyle = 'rgba(255,255,255,0.84)';
    ctx.fill();
    ctx.lineWidth = 3;
    ctx.strokeStyle = '#333';
    ctx.stroke();

    legendLabels.forEach((label, i) => {
      const cy = o.y0 + i * o.gap;
      if (i === 0) {
        if (o.showGray) {
          ctx.beginPath();
          ctx.arc(o.mx, cy, 8, 0, Math.PI * 2);
          ctx.fillStyle = GRAY_FILL; ctx.fill();
          ctx.lineWidth = 2; ctx.strokeStyle = GRAY_EDGE; ctx.stroke();
        }
      } else {
        const k = (i - 1) % 3;
        ctx.lineWidth = 4;
        ctx.strokeStyle = DARK[k];
        ctx.fillStyle = '#fff';
        ctx.beginPath();
        if (i <= 3) ctx.arc(o.mx, cy, o.r, 0, Math.PI * 2);
        else ctx.rect(o.mx - o.r, cy - o.r, 2 * o.r, 2 * o.r);
        ctx.fill(); ctx.stroke();
      }
      ctx.save();
      ctx.translate(o.tx, cy);
      ctx.scale(o.sx, 1);
      ctx.fillStyle = '#000';
      ctx.font = `${o.size}px ${FONT}`;
      ctx.textAlign = 'left';
      ctx.textBaseline = 'middle';
      ctx.fillText(label, 0, 0);
      ctx.restore();
    });
    ctx.restore();
  }
};

function makeChart(id, datasets, yWidth, rightPad, frameOpts, legendOpts) {
  return new Chart(document.getElementById(id), {
    type: 'scatter',
    data: { datasets },
    options: {
      responsive: false,
      animation: false,
      devicePixelRatio: 1,
      events: [],
      layout: { padding: { top: 63, right: rightPad, bottom: 0, left: 0 } },
      plugins: {
        legend: { display: false },
        tooltip: { enabled: false },
        frame: frameOpts,
        insetLegend: legendOpts
      },
      scales: {
        x: {
          type: 'linear', min: 400, max: 1200,
          afterBuildTicks: s => { s.ticks = xMajorTicks.map(v => ({ value: v })); },
          afterFit: s => { s.height = 291; },
          grid: { display: false, drawTicks: false },
          border: { display: false },
          ticks: { color: '#000', font: { family: FONT, size: 78 }, padding: 48, maxRotation: 0, autoSkip: false, callback: v => String(v) }
        },
        y: {
          type: 'linear', min: 0, max: 120,
          afterBuildTicks: s => { s.ticks = yMajorTicks.map(v => ({ value: v })); },
          afterFit: s => { s.width = yWidth; },
          grid: { display: false, drawTicks: false },
          border: { display: false },
          ticks: { color: '#000', font: { family: FONT, size: 78 }, padding: 68, autoSkip: false, callback: v => String(v) }
        }
      }
    },
    plugins: [framePlugin, legendPlugin]
  });
}

makeChart('chartA',
  buildDatasets([grayAUpper, grayAMid, grayACoreLeft, grayACoreRight, grayALow, grayALeftExtra, grayARight, grayAUnderLegend],
    [caseA1, caseA2, caseA3, caseA4, caseA5, caseA6], bestA),
  349, 95,
  { tag: '(a)', yMain: 'MEM1, P' },
  { x: 1057, y: 104, w: 693, h: 529, y0: 146, gap: 73.5, mx: 1129, tx: 1223, r: 26, size: 56, sx: 0.92, showGray: true });

makeChart('chartB',
  buildDatasets([grayBBand, grayBMid, grayBMidExtra, grayBLeft, grayBLow, grayBRight, grayBUnderLegend],
    [caseB1, caseB2, caseB3, caseB4, caseB5, caseB6], bestB),
  338, 106,
  { tag: '(b)', yMain: 'MEM2, P' },
  { x: 1168, y: 983, w: 576, h: 447, y0: 1016, gap: 62.3, mx: 1229, tx: 1307, r: 25.5, size: 50, sx: 0.86, showGray: false });
</script>
</body>
</html>
